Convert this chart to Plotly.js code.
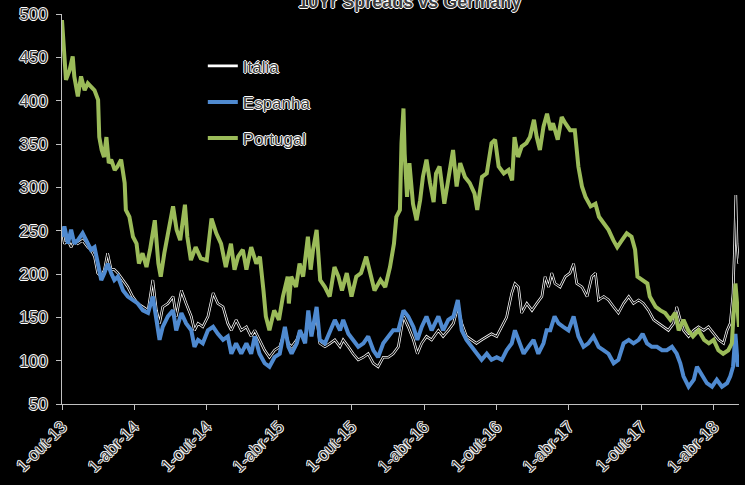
<!DOCTYPE html>
<html>
<head>
<meta charset="utf-8">
<script src="https://cdn.plot.ly/plotly-3.0.1.min.js"></script>
<style>html,body{margin:0;padding:0;background:#000;}</style>
</head>
<body>
<div id="chart" style="width:745px;height:485px;"></div>
<script>
// Months elapsed since 1-Oct-2013 and spread values (bp)
const italiaMonths = [0,0.22,0.5,0.77,1.05,1.33,1.74,2.15,2.43,2.71,2.98,3.26,3.54,3.81,4.09,4.36,4.64,5.06,5.47,5.88,6.3,6.71,7.13,7.54,7.82,8.09,8.37,8.79,9.2,9.48,9.89,10.3,10.72,11.0,11.27,11.69,12.1,12.52,12.93,13.34,13.76,14.03,14.45,14.86,15.28,15.69,15.97,16.38,16.8,17.21,17.62,18.04,
  18.48,18.76,19.03,19.45,19.72,20.14,20.41,20.69,21.1,21.38,21.8,22.21,22.62,23.04,23.31,23.73,24.14,24.56,24.97,25.39,25.8,26.21,26.63,27.04,27.46,27.87,28.29,28.7,29.12,29.45,29.81,30.22,30.63,31.19,31.6,32.02,32.43,32.79,33.12,33.54,33.95,34.36,34.78,35.19,35.61,36.02,36.44,36.85,37.26,37.54,
  37.83,38.11,38.52,38.94,39.35,39.77,40.04,40.32,40.6,40.87,41.29,41.7,42.11,42.39,42.67,43.08,43.5,43.91,44.19,44.46,44.88,45.29,45.71,46.12,46.53,46.95,47.36,47.78,48.19,48.61,49.02,49.43,49.85,50.26,50.68,50.95,51.23,51.51,51.92,52.34,52.75,53.16,53.58,53.99,54.41,54.82,55.1,55.37,55.6,55.73,55.84,55.95,56.06,56.18];
const italiaValues = [251,235,239,231,239,235,239,231,228,220,201,197,205,224,205,205,201,193,185,174,166,162,158,193,158,143,162,166,174,151,181,166,151,135,143,139,151,178,166,162,143,135,147,135,139,128,135,124,112,104,112,116,
  135,120,116,124,135,124,151,131,151,120,116,120,124,116,124,116,108,101,104,108,97,93,104,104,108,116,151,139,124,108,120,128,124,135,128,135,143,162,143,128,124,120,124,128,131,128,139,150,178,189,
  185,155,166,158,166,174,197,185,201,189,185,197,201,212,189,185,174,197,201,170,174,170,162,155,166,174,166,170,166,158,147,143,139,135,143,162,147,135,128,135,139,135,139,131,124,120,135,143,178,235,291,235,212,220];

const espanhaMonths = [0,0.22,0.5,0.77,1.05,1.33,1.74,2.15,2.43,2.71,2.98,3.26,3.54,3.81,4.09,4.36,4.64,5.06,5.47,5.88,6.3,6.71,7.13,7.54,7.82,8.09,8.37,8.79,9.2,9.48,9.89,10.3,10.72,11.0,11.27,11.69,12.1,12.52,12.93,13.34,13.76,14.03,14.45,14.86,15.28,15.69,15.97,16.38,16.8,17.21,17.62,18.04,
  18.48,18.76,19.03,19.45,19.72,20.14,20.41,20.69,21.1,21.38,21.8,22.21,22.62,23.04,23.31,23.73,24.14,24.56,24.97,25.39,25.8,26.21,26.63,27.04,27.46,27.87,28.29,28.7,29.12,29.45,29.81,30.22,30.63,31.19,31.6,32.02,32.43,32.79,33.12,33.54,33.95,34.36,34.78,35.19,35.61,36.02,36.44,36.85,37.26,37.54,
  37.83,38.25,38.66,39.08,39.49,39.9,40.18,40.46,40.82,41.15,41.56,41.98,42.39,42.8,43.22,43.63,44.05,44.46,44.88,45.29,45.71,46.12,46.53,46.95,47.36,47.78,48.11,48.47,48.88,49.3,49.71,50.13,50.54,50.95,51.23,51.51,51.92,52.34,52.61,53.03,53.44,53.85,54.27,54.68,55.1,55.37,55.6,55.79,56.01,56.15];
const espanhaValues = [243,255,235,251,235,239,247,235,228,231,212,193,201,212,201,193,197,181,174,170,166,158,155,174,147,124,139,151,158,135,155,143,135,116,124,120,135,139,131,124,128,108,120,108,120,108,128,108,97,93,104,108,
  139,116,108,120,135,120,158,128,162,124,120,135,147,135,147,131,124,116,120,128,112,104,120,128,135,135,158,151,139,124,139,151,135,151,135,147,151,170,135,124,116,108,101,108,101,104,101,112,120,135,
  124,108,116,124,108,120,135,135,151,143,139,135,151,128,116,120,128,116,112,108,97,101,120,124,120,124,131,120,116,116,112,112,116,108,97,82,70,78,93,82,74,70,78,70,74,82,93,131,93,104];

const portugalMonths = [0,0.17,0.36,0.64,0.9,1.05,1.33,1.6,1.9,2.15,2.4,2.7,3.0,3.1,3.3,3.5,3.7,3.9,4.1,4.4,4.6,4.9,5.2,5.3,5.6,5.9,6.2,6.4,6.7,7.0,7.3,7.7,8.0,8.2,8.5,8.9,9.2,9.5,9.8,10.2,10.4,10.7,11.1,11.5,12.0,12.4,12.8,13.2,13.6,14.0,14.3,14.6,15.0,15.3,15.7,16.1,16.4,16.7,16.9,17.2,17.6,18.0,18.3,18.7,
  18.8,19.0,19.4,19.7,20.0,20.4,20.6,20.8,21.1,21.4,21.8,22.2,22.6,22.9,23.2,23.6,24.0,24.4,24.8,25.2,25.5,25.9,26.4,26.8,27.2,27.5,27.7,28.0,28.15,28.3,28.4,28.6,28.8,29.1,29.4,29.7,29.9,30.2,30.5,30.8,31.0,31.3,31.7,32.0,32.4,32.7,33.0,33.4,33.8,34.2,34.4,34.8,35.2,35.6,35.9,36.2,36.6,37.0,
  37.3,37.5,37.8,38.1,38.5,38.8,39.1,39.35,39.6,39.9,40.2,40.5,40.7,41.1,41.4,41.7,42.1,42.5,42.8,43.1,43.4,43.8,44.2,44.5,44.9,45.3,45.7,46.0,46.4,46.8,47.2,47.5,47.7,48.1,48.5,48.7,49.2,49.6,50.0,50.4,50.8,51.1,51.5,51.9,52.3,52.75,53.2,53.6,54.0,54.4,54.8,55.2,55.5,55.8,56.1,56.2];
const portugalValues = [493,455,424,435,451,428,405,428,412,420,416,412,401,358,343,335,358,328,332,320,324,332,305,274,266,243,235,212,224,208,228,262,212,197,224,251,278,251,239,280,243,216,231,218,216,264,247,235,208,235,205,220,228,205,231,212,220,181,151,135,158,147,174,197,
  166,197,185,212,197,243,205,228,251,193,185,174,208,197,181,201,174,197,201,220,201,181,193,185,208,235,266,274,351,391,339,289,328,281,262,285,312,332,305,283,316,324,281,312,343,301,328,312,305,293,274,312,316,351,355,324,316,320,
  308,358,335,347,351,358,378,358,343,370,385,366,374,355,381,374,366,366,324,301,289,278,281,266,258,251,239,231,239,247,243,228,197,193,189,174,162,158,155,147,155,135,147,135,128,135,124,120,124,112,108,112,120,189,139,147];

const tickDates = ['2013-10-01','2014-04-01','2014-10-01','2015-04-01','2015-10-01','2016-04-01','2016-10-01','2017-04-01','2017-10-01','2018-04-01'];
const tickLabels = ['1-out-13','1-abr-14','1-out-14','1-abr-15','1-out-15','1-abr-16','1-out-16','1-abr-17','1-out-17','1-abr-18'];
const yTicks = [50,100,150,200,250,300,350,400,450,500];

function monthToDate(m) {
  const t = Date.UTC(2013, 9, 1) + m * 30.4375 * 86400000;
  return new Date(t).toISOString().slice(0, 10);
}

const outline = '1px 0 0 #fff, -1px 0 0 #fff, 0 1px 0 #fff, 0 -1px 0 #fff';
const txtFont = {family: 'Liberation Sans, Arial, sans-serif', size: 17, color: '#3c3c3c', shadow: outline};

const itX = italiaMonths.map(monthToDate);
const traces = [
  {x: itX, y: italiaValues, type: 'scatter', mode: 'lines', name: 'Itália', legendgroup: 'it',
   line: {color: '#ffffff', width: 2.6}, hoverinfo: 'skip'},
  {x: itX, y: italiaValues, type: 'scatter', mode: 'lines', name: 'Itália', legendgroup: 'it', showlegend: false,
   line: {color: '#000000', width: 1.1}, hoverinfo: 'skip'},
  {x: espanhaMonths.map(monthToDate), y: espanhaValues, type: 'scatter', mode: 'lines', name: 'Espanha', legendgroup: 'es',
   line: {color: '#4f8ad0', width: 4}, hoverinfo: 'skip'},
  {x: portugalMonths.map(monthToDate), y: portugalValues, type: 'scatter', mode: 'lines', name: 'Portugal', legendgroup: 'pt',
   line: {color: '#9bbb59', width: 4}, hoverinfo: 'skip'}
];

const layout = {
  width: 745, height: 485,
  paper_bgcolor: '#000000', plot_bgcolor: '#000000',
  margin: {l: 62, r: 6, t: 14, b: 81},
  font: txtFont,
  title: {text: '<b>10Yr Spreads vs Germany</b>', x: 0.55, xanchor: 'center', y: 0.996, yref: 'container', yanchor: 'middle',
          font: {family: 'Liberation Sans, Arial, sans-serif', size: 18, color: '#3c3c3c', shadow: outline}},
  xaxis: {type: 'date', range: ['2013-10-01', '2018-06-04'], tickmode: 'array', tickvals: tickDates, ticktext: tickLabels,
          tickangle: -45, ticks: 'outside', ticklen: 5, tickcolor: '#c0c0c0', showline: true, linecolor: '#c0c0c0', linewidth: 1,
          showgrid: false, zeroline: false, tickfont: txtFont},
  yaxis: {range: [50, 500], tickmode: 'array', tickvals: yTicks, ticks: 'outside', ticklen: 5, tickcolor: '#c0c0c0',
          ticklabelstandoff: 5,
          showline: true, linecolor: '#c0c0c0', linewidth: 1, showgrid: false, zeroline: false, tickfont: txtFont},
  showlegend: true,
  legend: {x: 0.208, y: 0.912, xanchor: 'left', yanchor: 'top', bgcolor: 'rgba(0,0,0,0)', tracegroupgap: 11,
           traceorder: 'grouped', font: txtFont}
};

Plotly.newPlot('chart', traces, layout, {displayModeBar: false, staticPlot: true});
</script>
</body>
</html>
